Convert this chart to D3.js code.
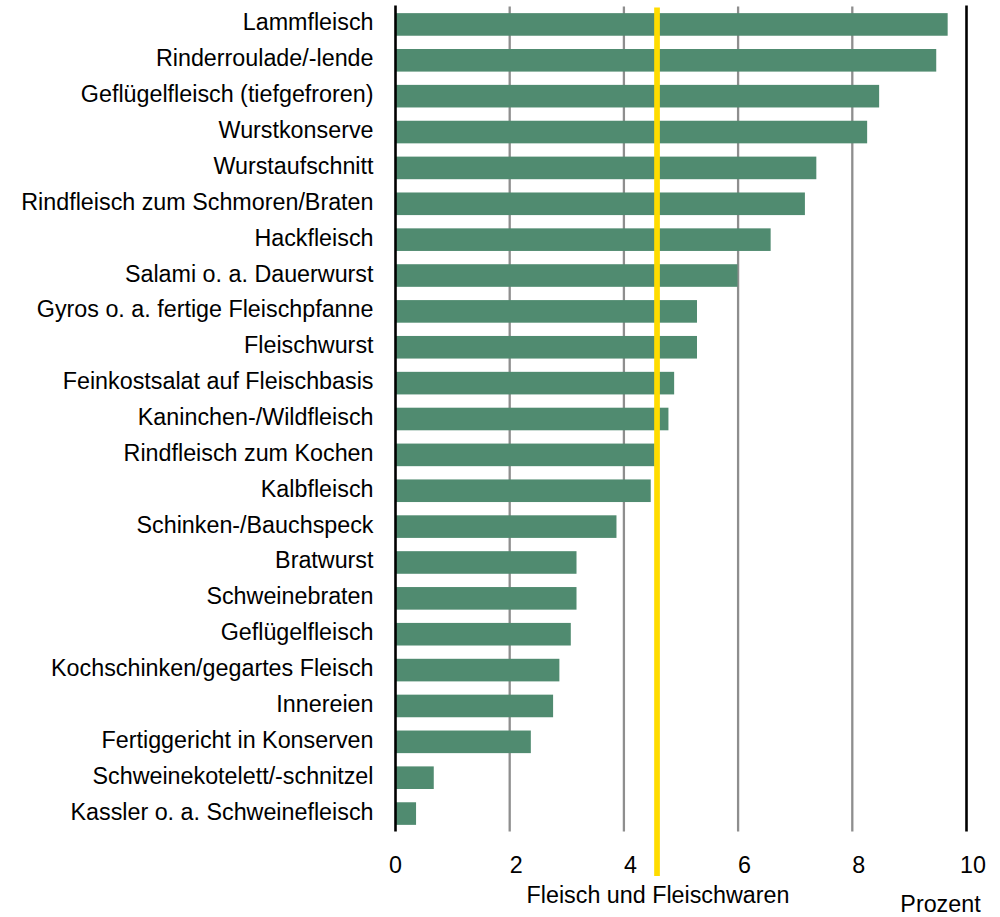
<!DOCTYPE html>
<html>
<head>
<meta charset="utf-8">
<script src="https://cdn.jsdelivr.net/npm/d3@7"></script>
<style>
  body { margin: 0; background: #fff; }
  svg { font-family: "Liberation Sans", Arial, sans-serif; }
</style>
</head>
<body>
<div class="chart"></div>
<script>
// values (percent)
const categories = [
  "Lammfleisch", "Rinderroulade/-lende", "Geflügelfleisch (tiefgefroren)",
  "Wurstkonserve", "Wurstaufschnitt", "Rindfleisch zum Schmoren/Braten",
  "Hackfleisch", "Salami o. a. Dauerwurst", "Gyros o. a. fertige Fleischpfanne",
  "Fleischwurst", "Feinkostsalat auf Fleischbasis", "Kaninchen-/Wildfleisch",
  "Rindfleisch zum Kochen", "Kalbfleisch", "Schinken-/Bauchspeck", "Bratwurst",
  "Schweinebraten", "Geflügelfleisch", "Kochschinken/gegartes Fleisch",
  "Innereien", "Fertiggericht in Konserven", "Schweinekotelett/-schnitzel",
  "Kassler o. a. Schweinefleisch"
];
const values = [
  9.67, 9.47, 8.47, 8.26, 7.37, 7.17, 6.57, 5.99, 5.28, 5.28, 4.88, 4.78,
  4.54, 4.47, 3.87, 3.17, 3.17, 3.07, 2.87, 2.76, 2.37, 0.67, 0.36
];
const tickValues = [0, 2, 4, 6, 8, 10];
const referenceValue = 4.58;
const referenceLabel = "Fleisch und Fleischwaren";
const unitLabel = "Prozent";

const width = 1000, height = 917;
const margin = {top: 6.5, right: 33.5, bottom: 85.5, left: 395.5};

const svg = d3.select(".chart")
  .append("svg")
  .attr("width", width)
  .attr("height", height);

const x = d3.scaleLinear()
  .domain([0, 10])
  .range([margin.left, width - margin.right]);

const y = d3.scaleBand()
  .domain(categories)
  .range([margin.top, height - margin.bottom])
  .paddingInner(0.37)
  .paddingOuter(0.185);

const data = categories.map((c, i) => ({name: c, val: values[i]}));

// gridlines (grey inside, black at both ends)
svg.append("g")
  .selectAll("line")
  .data(tickValues.filter(t => t > 0 && t < 10))
  .enter().append("line")
    .attr("x1", d => x(d)).attr("x2", d => x(d))
    .attr("y1", margin.top).attr("y2", height - margin.bottom)
    .style("stroke", "#8e8e8e")
    .style("stroke-width", 2.3);

// bars
svg.append("g")
  .selectAll("rect")
  .data(data)
  .enter().append("rect")
    .attr("x", x(0))
    .attr("y", d => y(d.name))
    .attr("width", d => x(d.val) - x(0))
    .attr("height", y.bandwidth())
    .style("fill", "#508b70");

svg.append("g")
  .selectAll("line")
  .data([0, 10])
  .enter().append("line")
    .attr("x1", d => x(d)).attr("x2", d => x(d))
    .attr("y1", margin.top - 1).attr("y2", height - margin.bottom)
    .style("stroke", "#000")
    .style("stroke-width", 2.6);

// reference line
svg.append("line")
  .attr("x1", x(referenceValue)).attr("x2", x(referenceValue))
  .attr("y1", margin.top + 1).attr("y2", 876)
  .style("stroke", "#ffdc00")
  .style("stroke-width", 5.7);

// category labels
svg.append("g")
  .selectAll("text")
  .data(categories)
  .enter().append("text")
    .attr("x", margin.left - 22)
    .attr("y", d => y(d) + y.bandwidth() / 2 + 6)
    .attr("text-anchor", "end")
    .style("font-size", "23.3px")
    .style("fill", "#000")
    .text(d => d);

// x tick labels
svg.append("g")
  .selectAll("text")
  .data(tickValues)
  .enter().append("text")
    .attr("x", d => x(d) + (d === 0 ? 0 : 6.5))
    .attr("y", 873)
    .attr("text-anchor", "middle")
    .style("font-size", "23.3px")
    .style("fill", "#000")
    .text(d => d);

svg.append("text")
  .attr("x", x(referenceValue) + 1)
  .attr("y", 903)
  .attr("text-anchor", "middle")
  .style("font-size", "23.3px")
  .style("fill", "#000")
  .text(referenceLabel);

svg.append("text")
  .attr("x", x(10) - 26)
  .attr("y", 912)
  .attr("text-anchor", "middle")
  .style("font-size", "23.3px")
  .style("fill", "#000")
  .text(unitLabel);
</script>
</body>
</html>
